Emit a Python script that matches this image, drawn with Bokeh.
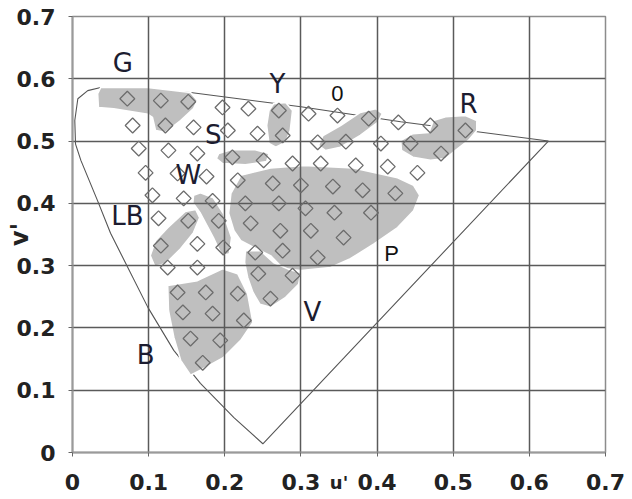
import math
from bokeh.plotting import figure
from bokeh.models import Range1d, FixedTicker
from bokeh.core.properties import value
from bokeh.embed import file_html
from bokeh.resources import INLINE

# ---- axis ticks ----
tick_vals = [0, 0.1, 0.2, 0.3, 0.4, 0.5, 0.6, 0.7]
tick_labels = ["0", "0.1", "0.2", "0.3", "0.4", "0.5", "0.6", "0.7"]

# ---- spectral locus (closed outline) ----
locus_u = [0.037, 0.020, 0.007, 0.003, 0.004, 0.011, 0.033, 0.050, 0.099, 0.133, 0.168, 0.212, 0.250,
           0.625, 0.431, 0.300, 0.155, 0.037]
locus_v = [0.586, 0.581, 0.568, 0.533, 0.495, 0.469, 0.404, 0.352, 0.233, 0.164, 0.111, 0.056, 0.014,
           0.500, 0.531, 0.555, 0.578, 0.586]

# ---- shaded colour regions ----
g_u = [0.037, 0.099, 0.155, 0.164, 0.159, 0.142, 0.122, 0.109, 0.105, 0.099, 0.054, 0.034, 0.033]
g_v = [0.586, 0.586, 0.578, 0.565, 0.552, 0.533, 0.514, 0.517, 0.538, 0.543, 0.552, 0.554, 0.576]

y_u = [0.264, 0.280, 0.289, 0.286, 0.280, 0.267, 0.258, 0.255, 0.258]
y_v = [0.560, 0.562, 0.549, 0.517, 0.498, 0.490, 0.496, 0.525, 0.549]

o_u = [0.323, 0.329, 0.352, 0.378, 0.398, 0.407, 0.401, 0.378, 0.352, 0.332]
o_v = [0.493, 0.509, 0.525, 0.546, 0.552, 0.544, 0.530, 0.509, 0.490, 0.485]

r_u = [0.431, 0.447, 0.468, 0.474, 0.490, 0.516, 0.531, 0.531, 0.520, 0.503, 0.490, 0.470, 0.447, 0.432]
r_v = [0.501, 0.512, 0.514, 0.533, 0.539, 0.541, 0.533, 0.517, 0.501, 0.485, 0.472, 0.469, 0.474, 0.485]

s_u = [0.192, 0.208, 0.240, 0.258, 0.255, 0.227, 0.197, 0.189]
s_v = [0.480, 0.486, 0.486, 0.480, 0.467, 0.462, 0.464, 0.472]

p_u = [0.205, 0.208, 0.221, 0.260, 0.304, 0.369, 0.427, 0.448, 0.456, 0.448, 0.427, 0.396, 0.365,
       0.339, 0.300, 0.277, 0.260, 0.238, 0.221, 0.212]
p_v = [0.384, 0.416, 0.445, 0.457, 0.461, 0.457, 0.441, 0.429, 0.413, 0.388, 0.361, 0.335, 0.311,
       0.297, 0.292, 0.295, 0.316, 0.329, 0.340, 0.356]

lb_u = [0.102, 0.109, 0.125, 0.148, 0.162, 0.167, 0.159, 0.142, 0.122, 0.108]
lb_v = [0.316, 0.340, 0.361, 0.387, 0.390, 0.377, 0.353, 0.327, 0.303, 0.299]

w_u = [0.159, 0.168, 0.185, 0.198, 0.209, 0.206, 0.196, 0.185, 0.168, 0.158]
w_v = [0.413, 0.417, 0.409, 0.384, 0.345, 0.319, 0.316, 0.345, 0.384, 0.401]

v_u = [0.227, 0.247, 0.264, 0.284, 0.300, 0.297, 0.280, 0.260, 0.246, 0.237, 0.230, 0.226]
v_v = [0.324, 0.324, 0.305, 0.294, 0.289, 0.270, 0.249, 0.233, 0.238, 0.257, 0.281, 0.305]

b_u = [0.125, 0.164, 0.197, 0.217, 0.230, 0.237, 0.221, 0.198, 0.168, 0.155, 0.142, 0.133, 0.126]
b_v = [0.268, 0.276, 0.295, 0.287, 0.255, 0.209, 0.180, 0.152, 0.132, 0.124, 0.148, 0.185, 0.228]

# ---- sample points (diamonds) ----
diamond_u = [0.072, 0.116, 0.152, 0.079, 0.122, 0.159, 0.087, 0.126, 0.164, 0.096, 0.138, 0.176,
             0.197, 0.231, 0.271, 0.310, 0.348, 0.204, 0.243, 0.276, 0.322, 0.210, 0.251, 0.289,
             0.326, 0.389, 0.428, 0.470, 0.516, 0.359, 0.405, 0.444, 0.484, 0.372, 0.414, 0.453,
             0.217, 0.263, 0.300, 0.342, 0.381, 0.424, 0.227, 0.271, 0.306, 0.344, 0.392, 0.234,
             0.273, 0.313, 0.356, 0.240, 0.276, 0.322, 0.105, 0.146, 0.184, 0.113, 0.152, 0.192,
             0.116, 0.164, 0.198, 0.125, 0.164, 0.138, 0.175, 0.217, 0.145, 0.184, 0.225, 0.155,
             0.194, 0.171, 0.244, 0.289, 0.260]
diamond_v = [0.568, 0.565, 0.563, 0.525, 0.525, 0.522, 0.488, 0.485, 0.480, 0.449, 0.448, 0.443,
             0.554, 0.552, 0.549, 0.544, 0.541, 0.517, 0.512, 0.509, 0.498, 0.474, 0.469, 0.464,
             0.464, 0.536, 0.530, 0.525, 0.517, 0.499, 0.496, 0.496, 0.480, 0.461, 0.459, 0.449,
             0.437, 0.432, 0.429, 0.427, 0.421, 0.416, 0.400, 0.400, 0.392, 0.385, 0.385, 0.368,
             0.356, 0.356, 0.345, 0.321, 0.324, 0.313, 0.413, 0.408, 0.404, 0.376, 0.372, 0.372,
             0.332, 0.335, 0.329, 0.297, 0.297, 0.257, 0.257, 0.255, 0.225, 0.223, 0.212, 0.183,
             0.180, 0.144, 0.287, 0.284, 0.247]

# ---- region labels ----
label_text = ["G", "Y", "R", "S", "W", "LB", "V", "B"]
label_u = [0.066, 0.269, 0.520, 0.185, 0.152, 0.072, 0.315, 0.096]
label_v = [0.626, 0.592, 0.559, 0.509, 0.445, 0.379, 0.225, 0.157]

small_text = ["0", "P"]
small_u = [0.348, 0.419]
small_v = [0.576, 0.319]

p = figure(width=630, height=498,
           x_range=Range1d(0, 0.7), y_range=Range1d(0, 0.7),
           output_backend="svg", toolbar_location=None,
           min_border_left=72, min_border_right=25, min_border_top=16, min_border_bottom=46,
           background_fill_color="white", border_fill_color="white")

overrides = {t: s for t, s in zip(tick_vals, tick_labels)}
for ax in (p.xaxis[0], p.yaxis[0]):
    ax.ticker = FixedTicker(ticks=tick_vals)
    ax.major_label_overrides = overrides
    ax.major_label_text_font = "DejaVu Sans"
    ax.major_label_text_font_style = "bold"
    ax.major_label_text_font_size = "22px"
    ax.major_label_text_color = "#222222"
    ax.axis_line_color = "#9a9a9a"
    ax.axis_line_width = 2
    ax.major_tick_line_color = "#666666"
    ax.major_tick_in = 0
    ax.major_tick_out = 4
    ax.minor_tick_line_color = None
    ax.axis_label_text_font = "DejaVu Sans"
    ax.axis_label_text_font_style = "bold"
    ax.axis_label_text_color = "#222222"

p.xaxis.major_label_standoff = 17
p.yaxis.major_label_standoff = 13
p.xaxis.axis_label = "u'"
p.xaxis.axis_label_text_font_size = "18px"
p.xaxis.axis_label_standoff = -21
p.yaxis.axis_label = "v'"
p.yaxis.axis_label_text_font_size = "24px"
p.yaxis.axis_label_standoff = -20

p.xgrid.ticker = FixedTicker(ticks=tick_vals)
p.ygrid.ticker = FixedTicker(ticks=tick_vals)
p.grid.grid_line_color = "#5a5a5a"
p.grid.grid_line_width = 1.5
p.outline_line_color = "#8c8c8c"
p.outline_line_width = 1.5

p.line(locus_u, locus_v, line_color="#555555", line_width=1.1, level="image")

blobs_u = [g_u, y_u, o_u, r_u, s_u, p_u, lb_u, w_u, v_u, b_u]
blobs_v = [g_v, y_v, o_v, r_v, s_v, p_v, lb_v, w_v, v_v, b_v]
p.patches(blobs_u, blobs_v, fill_color="#bfbfbf", line_color="white", line_width=1.6, level="image")

p.scatter(diamond_u, diamond_v, marker="square", size=10.5, angle=math.pi / 4,
          fill_alpha=0, line_color="#6c6c6c", line_width=1.3)

p.text(x=label_u, y=label_v, text=label_text, text_font=value("DejaVu Sans"),
       text_font_size="26px", text_color="#1c1c30", text_align="center", text_baseline="middle")
p.text(x=small_u, y=small_v, text=small_text, text_font=value("Liberation Sans"),
       text_font_size="22px", text_color="#111111", text_align="center", text_baseline="middle")

open("out.html", "w").write(file_html(p, INLINE))
